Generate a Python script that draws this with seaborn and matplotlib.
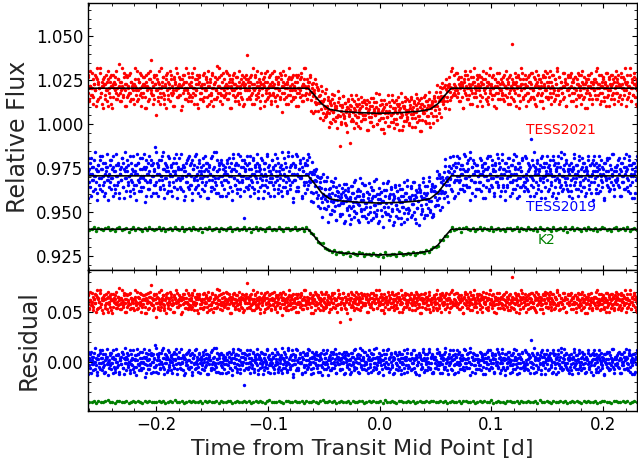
import numpy as np
import pandas as pd
import matplotlib
matplotlib.use('Agg')
import matplotlib.pyplot as plt
import seaborn as sns
from matplotlib.ticker import MultipleLocator

# transit model shape (shared by all three data sets)
model_time = [-0.262, -0.064, -0.058, -0.052, -0.045, -0.035, -0.02, 0.0,
              0.02, 0.035, 0.045, 0.052, 0.058, 0.064, 0.232]
model_frac = [0, 0, 0.3, 0.62, 0.84, 0.92, 0.97, 1.0,
              0.97, 0.92, 0.84, 0.62, 0.3, 0, 0]

names = ['TESS2021', 'TESS2019', 'K2']
colors = ['#ff0000', '#0000ff', '#008000']
baseline = [1.0205, 0.9706, 0.9402]
depth = [0.0143, 0.0155, 0.0146]
resid_offset = [0.06, 0.0, -0.04]
resid_unit = [0.00125, 0.00125, 0.0005]

# residuals per transit visit (TESS: two visits each, K2: one), in resid_unit
tess2021_a = [
    27, -2, 5, -6, 1, 0, 7, -3, -4, 2, 6, -1, -8, 4, 2, -5, 0, 9, -2, 3, -7, 1, 5, -3, 2, -1, -6, 8, 4, -2,
    -4, 1, 6, -9, 2, 3, -1, 5, -5, 0, 4, -3, 11, -2, -6, 3, 1, -4, 7, -1, 2, -8, 5, 0, -3, 6, -2, 3, -5, 1,
    2, -7, 4, 1, -3, 8, -1, -5, 3, 0, -2, 6, -4, 2, 5, -9, 1, 3, -1, 7, -6, 0, 4, -2, 13, -3, 1, -5, 6, 2,
    -1, 4, -6, 3, 0, -2, 9, -4, 1, 5, -3, -7, 2, 6, -1, 3, -5, 0, 8, -2, 4, -3, -1, 5, -8, 2, 0, 7, -4, 1,
    5, -3, 1, -10, 4, 2, -1, 6, -5, 3, 0, -2, 7, -4, 1, -6, 3, 5, -2, 0, 9, -3, -1, 4, -7, 2, 6, -5, 1, -2,
    0, 6, -4, 2, -1, 5, -8, 3, 1, -3, 4, -2, -6, 7, 0, 2, -5, 3, -1, 10, -4, 1, 5, -2, -3, 6, -7, 0, 4, -1,
    -3, 2, 7, -5, 1, -2, 4, 0, -9, 3, 6, -1, 2, -4, 5, -3, 1, -6, 8, 0, -2, 4, -5, 3, 1, -7, 2, 6, -1, 15,
    4, -1, -5, 3, 6, -2, 0, -7, 2, 5, -3, 1, 8, -4, -1, 3, -6, 2, 0, 4, -8, 1, 7, -2, 3, -5, 0, 5, -3, 2,
    -6, 3, 1, -2, 8, -4, 5, 0, -3, 2, -1, 7, -5, 4, -11, 1, 3, -2, 6, -4, 0, 2, -7, 5, 1, -3, 4, -1, -5, 6,
    1, -4, 6, -2, 3, -8, 0, 4, -1, 5, -3, 2, -6, 9, 1, -2, 4, -5, 0, 3, -1, 7, -4, 2, -9, 5, 1, -3, 6, 0,
    -2, 5, -1, 3, -7, 1, 6, -4, 2, 0, -5, 8, -3, 1, 4, -2, -6, 3, 0, 5, -1, -4, 7, 2, -3, 1, -8, 4, 6, -2,
    3, -5, 2, 7, -1, -3, 4, 0, -6, 2, 5, -2, 1, -14, 3, 6, -4, 0, 2, -1, 8, -5, 3, -2, 1, 4, -7, 0, 5, -3,
    -1, 6, -3, 2, 4, -8, 1, -2, 5, 3, -4, 0, 7, -6, 2, -1, 3, 5, -5, 1, -3, 9, 0, -2, 4, -7, 2, 6, -4, 1,
    4, -2, 0, -6, 5, 3, -1, 8, -4, 2, -3, 1, 6, -5, 0, 3, -8, 4, 2, -2, 5, -1, -6, 3, 7, -4, 1, -2, 0, 5,
    -5, 2, 7, -3, 1, -1, 4, -7, 3, 0, 6, -2, -4, 5, 2, -9, 1, 3, -1, 6, -5, 0, 4, -3, 2, 8, -6, 1, -2, 3,
    2, -4, 5, 0, -2, 6, -7, 3, 1, -5, 4, 2, -1, 7, -3, 0, 5, -6, 2, -2, 3, -8, 6, 1, -4, 0, 9, -3, 2, -1,
    -3, 7, -1, 4, -6, 2, 0, 5, -4, 1, -9, 3, 6, -2, 1, -5, 4, 0, -3, 8, -1, 2, -7, 5, 3, -2, 0, -4, 6, 1,
    5, -1, -6, 3, 2, -4, 8, 0, -2, 4, -5, 1, 3, -7, 6, -1, 2, -3, 5, 0, -8, 4, 1, -2, 7, -5, 3, 0, -1, 4,
    -2, 3, -5, 6, 1, -3, 0, 4, -7, 2, 5, -1, -4, 20, 0, 3, -6, 2, -2, 5, 1, -3, 6, -9, 4, -1, 2, 7, -5, 0,
    6, -3, 1, -2, 5, -6, 3, 0, 2, -4, 7, -1, -5, 4, 1, -8, 3, 6, -2, 0, 4, -3, 1, -6, 5, 2, -1, 8, -4, 3,
    -4, 1, 5, -2, 3, -7, 6, 0, -1, 4, -5, 2, 8, -3, -1, 5, -6, 3, 0, -2, 7, 1, -4, 3, -8, 2, 5, -1, 0, 6,
    1, -6, 3, 4, -2, 0, 5, -5, 2, 7, -3, 1, -1, 6, -7, 3, 0, -4, 5, 2, -2, -9, 4, 1, 6, -3, 0, 3, -5, 2,
    -1, 4, -3, 8, 0, -5, 2, 6, -2, 1, -6, 3, 5, -4, 0, 2, -8, 7, 1, -3, 4, -1, -5, 6, 2, -2, 3, -7, 5, 1,
    3, -2, 6, -4, 1, 5, -7, 2, 0, -3, 4, 9, -1, -5, 3, 1, -2, 6, -6, 0, 4, -3, 2, 7, -4, 1, -8, 3, 5, -1,
]
tess2021_b = [
    -2, 6, -5, 1, 8, -3, 0, 4, -7, 2, -1, 5, 9, -6, 3, 0, -4, 7, -2, 1, -9, 4, 2, -5, 6, -1, 3, -8, 0, 5,
    3, -7, 1, 6, -4, 0, 2, -2, 8, -5, 4, 1, -6, 3, -1, 9, -3, 0, 5, -8, 2, 6, -4, 1, -2, 7, -6, 3, 0, -1,
    -5, 2, 9, -1, 0, -6, 4, 3, -3, 7, -8, 1, 5, -2, 2, -4, 6, -9, 1, 0, 4, -5, 8, -1, 3, -3, -7, 5, 2, -12,
    6, -1, -4, 8, 2, -7, 0, 3, -2, 5, -5, 1, 4, -9, 7, -3, 0, 2, -6, 6, 1, -2, -8, 4, 3, -1, 9, -4, 0, 2,
    -3, 4, 1, -8, 6, -2, 3, 0, -5, 9, -1, -6, 2, 5, -3, 1, 7, -4, 0, -7, 4, 2, -1, 6, -9, 3, 5, -2, 1, -5,
    2, -6, 7, 0, -1, 4, -4, 8, -7, 1, 3, -3, 0, 6, -8, 2, 5, -1, -5, 4, -2, 9, 1, -6, 0, 3, -3, 7, -4, 1,
    8, -2, 0, -5, 3, 6, -9, 1, 4, -1, -3, 7, -6, 2, 0, 5, -2, -7, 3, 1, -4, 6, 2, -8, 5, -1, 0, 4, -5, 3,
    -4, 1, 5, -3, -7, 2, 9, -1, 0, 6, -5, 3, -2, 4, 1, -9, 7, 0, -3, 2, 5, -6, 3, -1, 8, -4, 1, -2, 6, -7,
    1, 7, -3, 2, -6, 0, 4, -8, 5, 3, -1, -4, 6, 1, -2, 8, -5, 2, 0, -7, 3, 4, -3, 9, -1, -6, 2, 5, -4, 0,
    -1, 3, -8, 5, 0, 6, -2, -4, 7, 1, -6, 2, 4, -3, 9, 0, -5, 3, 1, -2, 6, -9, 0, 4, -1, 2, -7, 8, -3, 5,
    4, -5, 2, 0, -3, 8, 1, -7, 3, -1, 6, -4, -2, 5, 0, -8, 4, 2, -6, 7, -1, 3, 1, -5, 2, -3, 9, -2, 6, -16,
    -6, 0, 3, 7, -2, -5, 4, 1, -9, 6, 2, -1, 3, -4, 8, -3, 0, 5, -7, 1, 4, -2, 6, -6, 0, 2, -4, 7, 3, -1,
    5, -3, -1, 4, 6, -8, 0, 2, -4, 7, -2, 3, -6, 1, 5, -1, 9, -5, 2, 0, -3, 4, -7, 6, 1, -2, 3, -9, 0, 4,
    -2, 8, -6, 1, 3, -1, -4, 6, 0, -7, 5, 2, -3, 4, -5, 7, 1, -2, 0, 9, -8, 3, 2, -4, 5, -1, 6, -3, 1, -6,
    3, -1, 6, -7, 2, 0, 5, -3, 8, -5, 1, 4, -2, -9, 3, 6, -4, 0, 2, -1, 7, -6, 4, 1, -3, 5, -8, 2, 0, 3,
    -7, 4, 0, 2, -5, 9, -1, 3, -3, 1, 6, -8, 5, 0, -2, 4, -6, 7, 1, -4, 2, 3, -1, -5, 8, 0, -3, 6, -2, 1,
    0, -4, 7, -2, 5, 1, -6, 3, 2, -9, 4, -1, 8, -3, 0, 6, -5, 2, 1, -7, 5, -2, 3, 9, -4, 1, -1, 4, -8, 2,
    6, 1, -3, 5, -8, 2, 4, -1, 0, 7, -6, 3, -4, 2, 9, -2, 1, -5, 6, 0, -3, 4, -9, 1, 3, -2, 7, -5, 2, -1,
    -3, 5, 2, -6, 1, 8, -4, 0, 3, -2, -7, 6, 1, 4, -5, 2, -1, 7, -8, 3, 0, 5, -3, 1, -6, 9, 2, -4, 4, 0,
    2, -8, 4, 1, -2, 6, 3, -5, 7, 0, -1, -4, 5, -7, 2, 8, -3, 1, 4, -6, 0, 3, -2, 6, -9, 1, 5, -1, -4, 7,
    -5, 3, 0, 8, -4, 1, -2, 6, -6, 4, 2, -3, 9, -1, -7, 5, 0, 3, -2, 1, -5, 7, 4, -8, 2, -1, 6, 0, -3, 5,
    7, -2, -6, 3, 0, 5, -1, -8, 4, 2, -4, 6, 1, -3, 8, -5, 2, 0, -9, 4, 3, -1, 6, -2, -5, 1, 7, -7, 3, 0,
    -1, 4, 3, -5, 9, -3, 0, 2, -7, 6, 1, -2, 4, -6, 3, 0, 7, -4, -1, 5, -8, 2, 1, -3, 6, 4, -5, 0, 8, -2,
    4, -6, 1, 2, -3, 7, -5, 0, 5, -1, 3, -8, 2, 6, -4, 1, -2, 9, -6, 3, 0, -3, 5, 2, -7, 4, -1, 1, -4, 6,
]
tess2019_a = [
    -5, 8, 2, -3, 6, -9, 1, 4, -2, 7, -6, 0, 3, -11, 5, 2, -4, 9, -1, -7, 3, 6, -3, 1, -8, 4, 10, -2, 0, -5,
    7, -1, -6, 3, 9, -4, 2, -8, 5, 0, -3, 6, -10, 1, 4, -2, 8, -5, 3, -1, 11, -7, 2, 5, -4, 0, -9, 6, 1, -3,
    2, -8, 5, 1, -4, 10, -2, 6, -7, 3, 0, -5, 8, -1, 4, -12, 3, 7, -3, 1, -6, 9, -2, 5, -9, 0, 6, -4, 2, 13,
    -3, 6, -9, 4, 1, -5, 7, 0, -2, 11, -6, 3, -1, 5, -8, 2, 9, -4, 1, -7, 4, 0, -3, 8, -5, 2, 6, -10, 3, -1,
    8, -2, 3, -6, 0, 5, -11, 4, 2, -3, 7, -5, 1, 9, -4, 0, 6, -8, 3, -1, 5, -6, 10, -2, 1, -4, 7, -9, 2, 4,
    -1, 5, -7, 2, 9, -3, 0, 6, -10, 4, 1, -5, 8, -2, 3, -6, 11, -1, -4, 7, 2, -8, 5, 0, -3, 6, -9, 3, 1, -2,
    4, -9, 6, 1, -3, 8, -5, 2, 0, -7, 10, -1, 3, -4, 6, -2, -8, 5, 1, -6, 9, 0, -3, 4, -19, 7, 2, -1, 5, -5,
    -6, 3, 0, 9, -2, -5, 7, 1, -8, 4, 2, -3, 6, -10, 5, -1, 3, 8, -4, 0, -7, 6, 1, -2, 10, -5, 4, -3, 2, -9,
    1, 7, -4, 3, -9, 5, 0, -2, 8, -6, 2, 4, -1, -7, 11, 3, -5, 1, 6, -3, 0, -8, 9, -2, 4, -4, 5, 1, -12, 6,
    -2, 4, 10, -5, 1, -7, 3, 6, -1, 0, -9, 8, 2, -4, 5, -3, 7, -6, 1, 9, -2, 3, -10, 4, 0, -5, 6, 2, -3, 8,
    5, -3, 1, -8, 6, 2, -4, 9, -1, -6, 3, 0, 7, -2, -11, 4, 1, 5, -7, 3, -1, 8, -5, 2, 6, -9, 0, 4, -2, 1,
    -7, 2, 6, -1, 4, -10, 3, 0, 8, -3, 5, -6, 1, 2, -8, 7, -2, 4, -4, 10, 0, -5, 3, 6, -1, -9, 5, -3, 9, 1,
    3, -6, 8, 0, -2, 5, -9, 4, 1, -4, 7, 2, -7, 6, -1, 3, -5, 11, -3, 0, 4, -8, 2, 5, -6, 1, 9, -2, -4, 6,
    0, 9, -5, 2, -8, 4, 6, -3, 1, -10, 3, 7, -1, -6, 5, 2, -4, 8, 0, -7, 6, -2, 3, -9, 1, 4, -3, 10, -5, 2,
    -4, 1, 7, -6, 3, -1, 9, -8, 2, 5, -3, 0, -11, 6, 4, -2, 1, -5, 8, 3, -7, 2, 0, 6, -4, 10, -1, -6, 3, 5,
    6, -8, 2, 4, -1, -5, 10, 0, -3, 7, -9, 3, 5, -2, 1, -6, 8, -4, 2, 0, -10, 6, 3, -1, 4, -7, 1, 9, -3, -2,
    -9, 4, 0, 6, -3, 8, -2, 1, -6, 5, 3, -7, 9, -1, -4, 2, 7, -5, 0, 11, -2, 4, -8, 1, 6, -3, 2, -6, 5, 0,
    2, -3, 8, -7, 5, 1, -4, 6, -10, 3, 0, -2, 9, 4, -6, 1, -1, 7, -5, 3, -9, 2, 5, -3, 0, 8, -4, 6, -1, -7,
    7, -1, -4, 3, -11, 6, 2, -5, 4, 0, 8, -3, 1, -8, 5, -2, 10, -6, 3, 1, -4, 6, -1, -9, 4, 2, -5, 7, 0, -3,
    -5, 9, 1, -2, 6, -7, 3, 0, -4, 17, -1, 5, -9, 2, 4, -3, 7, -6, 1, 3, -2, 8, -10, 4, -1, 6, 0, -5, 2, 9,
    4, -7, 5, 2, -3, 1, -9, 7, 0, -5, 6, 3, -1, -8, 9, -2, 4, -4, 11, 0, -6, 2, 5, -3, 7, -1, -7, 3, 1, -4,
    -2, 6, -10, 3, 8, -4, 1, -1, 5, -6, 2, 9, -3, 0, -7, 4, 6, -5, 2, -9, 3, 1, 7, -2, -4, 5, 0, -8, 6, 2,
    9, -3, 2, -6, 0, 4, -8, 5, 1, -2, 7, -5, 3, -11, 6, 0, -1, 8, -4, 2, -7, 5, 3, -3, 1, 10, -6, 2, -2, 4,
    -1, 5, -4, 8, -9, 2, 6, -3, 0, 4, -6, 1, 10, -5, 3, -2, 7, -8, 1, 5, -3, 0, 6, -10, 2, 4, -1, 9, -5, 3,
]
tess2019_b = [
    6, -10, 3, 1, -5, 8, -2, 4, -7, 0, 11, -3, 2, -8, 5, -1, 7, -6, 3, 9, -4, 0, -9, 6, 2, -2, 4, -11, 1, 5,
    -3, 7, -1, -9, 4, 2, -6, 10, 0, -4, 5, -8, 3, 1, -2, 8, -5, 6, -10, 2, 4, -1, 7, -3, 0, -7, 9, -2, 3, -6,
    9, -4, 2, 5, -11, 1, 6, -3, -1, 8, -7, 3, 0, -5, 10, -2, 4, -9, 1, 6, -6, 2, -3, 7, 5, -8, 0, 3, -4, 11,
    -8, 1, 5, -2, 7, -6, 0, 9, -4, 3, -10, 6, 2, -1, 4, -7, 8, -3, 0, 5, -9, 2, 6, -5, 1, 10, -2, -6, 4, -1,
    3, -5, 10, -1, -7, 4, 2, -9, 6, 0, -3, 8, -6, 1, 5, -4, -11, 7, 3, -2, 9, 0, -5, 4, -8, 2, 6, -1, 1, -3,
    -6, 8, 0, -4, 3, 6, -10, 2, 5, -2, 1, -7, 9, -5, 0, 4, -3, 11, -8, 2, -1, 6, 3, -9, 7, -4, 0, 5, -6, 2,
    1, -2, 7, -8, 4, 0, -5, 6, 3, -11, 8, -1, -4, 5, 2, -6, 10, -3, 1, -9, 4, 7, -2, 0, -7, 3, 6, -5, 9, -1,
    -4, 6, -9, 3, 1, -3, 8, -6, 0, 5, -1, 10, -7, 2, 4, -5, 1, -2, 7, -10, 3, 6, -4, 0, 9, -8, 2, 5, -1, -3,
    7, -1, 4, -6, 10, -3, 2, 0, -8, 6, -4, 1, 5, -9, 3, -2, 8, -5, 0, 4, -7, 11, -1, 2, -6, 5, -3, 9, -10, 1,
    -2, 5, -7, 9, 0, -5, 3, 7, -1, -10, 4, 2, -3, 6, -8, 1, 5, -4, 10, -2, 0, -6, 8, 3, -9, 4, -1, 6, 2, -5,
    5, -8, 1, 4, -3, 7, -11, 0, 6, -2, 3, -6, 9, -4, 1, 2, -7, 8, -1, -5, 6, 0, -3, 10, -9, 4, 2, -2, 7, -6,
    -1, 3, -6, 0, 8, -9, 5, 2, -4, 6, 1, -2, -10, 7, -3, 4, 0, -7, 9, 2, -5, 5, -1, -8, 3, 11, -4, 1, -6, 4,
    8, -3, 0, -7, 5, 2, -5, 9, -2, 1, -8, 6, 3, -4, 10, -1, -6, 4, 2, -9, 7, 0, -3, 5, 1, -11, 6, -2, 3, -5,
    -5, 10, -2, 3, -6, 0, 7, -4, 4, -9, 2, 8, -1, -3, 5, -7, 1, 6, -10, 3, 0, -2, 9, -5, 4, 1, -8, 7, -3, 2,
    2, -7, 6, -1, 9, -5, 1, 3, -10, 4, -3, 0, 7, 5, -6, 2, -4, 10, -8, 1, 6, -2, 3, -7, 0, 8, -5, -1, 4, -9,
    -9, 4, 2, -5, 1, 7, -3, -6, 8, 0, 5, -2, -9, 3, 6, -4, 11, -1, 2, -7, 4, -3, 0, 9, -6, 1, 5, -10, 2, 6,
    4, -2, 9, -8, 0, 3, -6, 5, 1, -4, 10, -7, 2, -1, 6, -5, 3, 0, -11, 8, -2, 4, 7, -3, 1, -9, 5, 2, -6, 0,
    -6, 1, -3, 7, 4, -10, 2, 0, 6, -5, 8, 3, -2, -7, 1, 9, -4, 5, -1, 2, -8, 6, 0, -3, 10, -5, 3, -9, 4, 1,
    10, -5, 3, 1, -7, 6, -1, -4, 8, 2, -9, 0, 5, -3, 7, -6, 1, 4, -2, 9, -10, 3, 6, -1, -5, 2, 8, -4, 0, -7,
    -3, 8, -1, -6, 2, 5, -9, 4, 0, 7, -2, -5, 11, 1, -8, 3, 6, -4, 2, -1, 5, -7, 9, 0, -3, 4, -10, 6, 1, -2,
    1, -6, 7, 3, -4, 0, 9, -8, 5, -2, 2, -10, 4, 6, -3, 1, -5, 8, -7, 3, 0, 10, -1, -4, 6, -6, 2, 5, -9, 3,
    -7, 2, 4, -1, 10, -3, -6, 5, 1, -9, 7, 0, -4, 3, 8, -2, -5, 6, -1, 4, -8, 2, 9, -6, 0, 5, -3, 1, 7, -11,
    5, -1, -8, 6, 2, -4, 3, 9, -7, 0, 4, -3, 1, -10, 6, 2, -2, 7, -5, -1, 8, -6, 3, 0, 10, -4, -9, 4, 2, -3,
    -2, 7, 1, -5, 3, -9, 6, 0, -3, 8, -6, 4, 2, -1, -7, 5, 9, -4, 0, 3, -10, 6, 1, -8, 4, -2, 7, -5, 3, 0,
]
k2_a = [
    1, -1, 0, 2, -2, 1, 0, -1, 1, 3, -1, 0, -2, 1, 2, -1, 0, 1, -3, 0, 2, -1, 1, 0, -2, 1, -1, 2, 0, -1,
    0, 2, -1, 1, -2, 0, 1, -1, 3, 0, -1, 2, -2, 0, 1, -1, 2, 0, -1, 1, -3, 1, 0, 2, -1, 0, 1, -2, 1, 0,
    -1, 1, 2, -2, 0, 1, -1, 0, 2, -1, 1, -3, 0, 2, -1, 1, 0, -2, 1, 3, -1, 0, -1, 2, 0, -2, 1, 1, -1, 0,
    2, -1, 0, 1, -2, 2, 0, -1, 1, 0, -2, 1, 3, -1, 0, 1, -1, 2, -2, 0, 1, -1, 0, 2, -3, 1, 0, -1, 2, 1,
    -2, 0, 1, -1, 2, 0, -1, 1, -2, 3, 0, -1, 1, 0, -2, 2, 1, -1, 0, 1, -1, 2, -2, 0, 1, 0, -1, 2, -1, 1,
    1, 0, -1, 2, -1, 1, -2, 0, 2, -1, 0, 1, -3, 1, 2, 0, -1, 1, -2, 0, 2, -1, 1, 0, -1, 3, -2, 0, 1, -1,
    0, -2, 1, 1, -1, 0, 2, -2, 1, 0, -1, 2, 0, -1, 1, -2, 3, 0, -1, 1, 0, -2, 2, -1, 0, 1, -1, 2, -3, 0,
    2, -1, 1, 0, -2, 1, -1, 2, 0, -1, 1, -2, 0, 2, 1, -1, 0, -2, 1, 2, -1, 0, 1, -1, 2, -2, 0, 1, -1, 0,
]
visits = [[tess2021_a, tess2021_b], [tess2019_a, tess2019_b], [k2_a]]

label_x = [0.131, 0.131, 0.141]
label_y = [0.9966, 0.9528, 0.9341]

sns.set_style('ticks')
plt.rcParams['font.family'] = ['DejaVu Sans']

fig, (ax1, ax2) = plt.subplots(2, 1, figsize=(6.38, 4.63), dpi=100, sharex=True,
                               gridspec_kw={'height_ratios': [267, 141], 'hspace': 0})
fig.subplots_adjust(left=0.138, right=0.998, top=0.9935, bottom=0.1123)

for i, name in enumerate(names):
    model_flux = baseline[i] - depth[i] * np.array(model_frac)
    frames = []
    for j, vals in enumerate(visits[i]):
        res = np.array(vals) * resid_unit[i]
        step = (model_time[-1] - model_time[0]) / len(res)
        t = np.linspace(model_time[0], model_time[-1], len(res)) + j * step / 2
        frames.append(pd.DataFrame({'time': t,
                                    'flux': np.interp(t, model_time, model_flux) + res,
                                    'resid': res + resid_offset[i]}))
    df = pd.concat(frames)
    sns.scatterplot(data=df, x='time', y='flux', color=colors[i], s=6,
                    linewidth=0, ax=ax1, zorder=2)
    sns.lineplot(x=model_time, y=model_flux, color='black', lw=1.2,
                 estimator=None, sort=False, ax=ax1, zorder=3)
    sns.scatterplot(data=df, x='time', y='resid', color=colors[i], s=6,
                    linewidth=0, ax=ax2, zorder=2)
    ax1.text(label_x[i], label_y[i], name, color=colors[i], fontsize=10, va='center')

ax1.set_xlim(-0.261, 0.230)
ax1.set_ylim(0.917, 1.069)
ax2.set_ylim(-0.0493, 0.0917)

ax1.yaxis.set_major_locator(MultipleLocator(0.025))
ax1.yaxis.set_minor_locator(MultipleLocator(0.005))
ax2.yaxis.set_major_locator(MultipleLocator(0.05))
ax2.yaxis.set_minor_locator(MultipleLocator(0.01))
ax2.xaxis.set_major_locator(MultipleLocator(0.1))
ax2.xaxis.set_minor_locator(MultipleLocator(0.02))

for ax in (ax1, ax2):
    ax.tick_params(direction='in', which='both', top=True, right=True,
                   labelsize=12, colors='black')
    for sp in ax.spines.values():
        sp.set_color('black')
        sp.set_linewidth(1.0)

ax1.set_xlabel('')
ax1.set_ylabel('Relative Flux', fontsize=17)
ax2.set_ylabel('Residual', fontsize=17)
ax2.set_xlabel('Time from Transit Mid Point [d]', fontsize=16)

fig.savefig('out.png', dpi=100)
